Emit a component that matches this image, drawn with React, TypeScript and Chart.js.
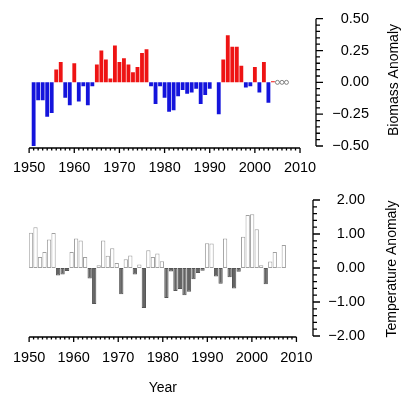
import React, { useEffect, useRef } from 'react';
import { Chart, registerables } from 'chart.js';

Chart.register(...registerables);

const FONT = '"Liberation Sans", Arial, Helvetica, sans-serif';

// ---------- data ----------
const biomassYears = [
  1951, 1952, 1953, 1954, 1955, 1956, 1957, 1958, 1959, 1960,
  1961, 1962, 1963, 1964, 1965, 1966, 1967, 1968, 1969, 1970,
  1971, 1972, 1973, 1974, 1975, 1976, 1977, 1978, 1979, 1980,
  1981, 1982, 1983, 1984, 1985, 1986, 1987, 1988, 1989, 1990,
  1991, 1992, 1993, 1994, 1995, 1996, 1997, 1998, 1999, 2000,
  2001, 2002, 2003, 2004,
];
const biomassValues = [
  -0.5, -0.14, -0.14, -0.27, -0.24, 0.1, 0.16, -0.12, -0.18, 0.15,
  -0.15, -0.03, -0.18, -0.03, 0.14, 0.25, 0.18, 0.03, 0.29, 0.16,
  0.19, 0.14, 0.08, 0.12, 0.23, 0.26, -0.03, -0.17, -0.03, -0.12,
  -0.23, -0.22, -0.11, -0.06, -0.09, -0.08, -0.05, -0.17, -0.1, -0.05,
  null, -0.25, 0.18, 0.37, 0.28, 0.28, 0.13, -0.04, -0.03, 0.12,
  -0.08, 0.16, -0.16, 0.008,
];
const biomassMissingYears = [2005, 2006, 2007];

const tempYears = [
  1950, 1951, 1952, 1953, 1954, 1955, 1956, 1957, 1958, 1959,
  1960, 1961, 1962, 1963, 1964, 1965, 1966, 1967, 1968, 1969,
  1970, 1971, 1972, 1973, 1974, 1975, 1976, 1977, 1978, 1979,
  1980, 1981, 1982, 1983, 1984, 1985, 1986, 1987, 1988, 1989,
  1990, 1991, 1992, 1993, 1994, 1995, 1996, 1997, 1998, 1999,
  2000, 2001, 2002, 2003, 2004, 2005, 2006, 2007,
];
const tempValues = [
  1.43, 1.04, 1.2, 0.32, 0.47, 0.84, 1.03, -0.22, -0.19, -0.09,
  0.47, 0.87, 0.81, 0.32, -0.31, -1.06, 0.08, 0.81, 0.36, 0.58,
  0.15, -0.77, 0.26, 0.37, -0.19, 0.1, -1.18, 0.52, 0.32, 0.43,
  0.2, -0.88, -0.1, -0.68, -0.62, -0.8, -0.7, -0.33, -0.15, -0.08,
  0.73, 0.72, -0.25, -0.46, 0.87, -0.27, -0.6, -0.11, 0.92, 1.56,
  1.58, 1.14, 0.08, -0.48, 0.19, 0.47, 0.02, 0.68,
];

const xTickYears = [1950, 1960, 1970, 1980, 1990, 2000, 2010];
const biomassTicks = [-0.5, -0.25, 0, 0.25, 0.5];
const tempTicks = [-2, -1, 0, 1, 2];

const RED = '#ee1414';
const BLUE = '#1414dc';
const DARK = '#646464';

const fmt = (v: number) => (v < -1e-9 ? '\u2212' : '') + Math.abs(v).toFixed(2);

type AxesCfg = {
  xAxis: string;
  xLineOffset: number;
  yMinorStep: number;
  majorTicks: number[];
  yTitle: string;
  yTitleX: number;
  yTitleY: number;
  xTitle?: string;
  xTitleY?: number;
};

function rAxes(cfg: AxesCfg) {
  return {
    id: 'rAxes',
    afterDraw(chart: any) {
      const ctx = chart.ctx as CanvasRenderingContext2D;
      const xs = chart.scales[cfg.xAxis];
      const ys = chart.scales.y;
      const area = chart.chartArea;
      ctx.save();
      ctx.strokeStyle = '#000';
      ctx.lineWidth = 1.3;
      // x axis
      const first = xTickYears[0];
      const last = xTickYears[xTickYears.length - 1];
      const yAx = area.bottom + cfg.xLineOffset;
      ctx.beginPath();
      ctx.moveTo(xs.getPixelForValue(first), yAx);
      ctx.lineTo(xs.getPixelForValue(last), yAx);
      for (let yr = first; yr <= last; yr++) {
        const px = xs.getPixelForValue(yr);
        const len = yr % 10 === 0 ? 5 : 2.5;
        ctx.moveTo(px, yAx);
        ctx.lineTo(px, yAx + len);
      }
      ctx.stroke();
      // y axis
      const xAy = area.right;
      const lo = cfg.majorTicks[0];
      const hi = cfg.majorTicks[cfg.majorTicks.length - 1];
      ctx.beginPath();
      ctx.moveTo(xAy, ys.getPixelForValue(lo));
      ctx.lineTo(xAy, ys.getPixelForValue(hi));
      const n = Math.round((hi - lo) / cfg.yMinorStep);
      for (let i = 0; i <= n; i++) {
        const v = lo + i * cfg.yMinorStep;
        const major = cfg.majorTicks.some((t) => Math.abs(t - v) < 1e-6);
        const py = ys.getPixelForValue(v);
        ctx.moveTo(xAy, py);
        ctx.lineTo(xAy + (major ? 7 : 4), py);
      }
      ctx.stroke();
      // titles
      ctx.fillStyle = '#000';
      ctx.font = '14px ' + FONT;
      ctx.textAlign = 'center';
      ctx.textBaseline = 'middle';
      ctx.save();
      ctx.translate(cfg.yTitleX, cfg.yTitleY);
      ctx.rotate(-Math.PI / 2);
      ctx.fillText(cfg.yTitle, 0, 0);
      ctx.restore();
      if (cfg.xTitle) {
        const cx = (xs.getPixelForValue(first) + xs.getPixelForValue(last)) / 2;
        ctx.fillText(cfg.xTitle, cx, cfg.xTitleY as number);
      }
      ctx.restore();
    },
  };
}

const tickFont = { family: FONT, size: 14.5 };

function xScale(min: number, max: number, height: number) {
  return {
    type: 'linear',
    position: 'bottom',
    min,
    max,
    offset: false,
    grid: { display: false, drawTicks: false, offset: false },
    border: { display: false },
    afterBuildTicks: (s: any) => {
      s.ticks = xTickYears.map((v) => ({ value: v }));
    },
    afterFit: (s: any) => {
      s.height = height;
    },
    ticks: {
      autoSkip: false,
      maxRotation: 0,
      minRotation: 0,
      padding: 13,
      color: '#000',
      font: tickFont,
      callback: (v: any) => String(v),
    },
  };
}

function yScale(ticks: number[], width: number) {
  return {
    type: 'linear',
    position: 'right',
    min: ticks[0],
    max: ticks[ticks.length - 1],
    grid: { display: false, drawTicks: false },
    border: { display: false },
    afterBuildTicks: (s: any) => {
      s.ticks = ticks.map((v) => ({ value: v }));
    },
    afterFit: (s: any) => {
      s.width = width;
    },
    ticks: {
      crossAlign: 'far',
      padding: 10,
      color: '#000',
      font: tickFont,
      callback: (v: any) => fmt(Number(v)),
    },
  };
}

export default function App() {
  const topRef = useRef<HTMLCanvasElement>(null);
  const botRef = useRef<HTMLCanvasElement>(null);

  useEffect(() => {
    const top = new Chart(topRef.current as HTMLCanvasElement, {
      type: 'bar',
      data: {
        datasets: [
          {
            type: 'bar',
            data: biomassYears.map((yr, i) => ({ x: yr, y: biomassValues[i] })),
            backgroundColor: biomassValues.map((v) => ((v ?? 0) >= 0 ? RED : BLUE)),
            borderWidth: 0,
            barPercentage: 0.85,
            categoryPercentage: 1,
            xAxisID: 'x',
            yAxisID: 'y',
          } as any,
          {
            type: 'line',
            data: biomassMissingYears.map((yr) => ({ x: yr, y: 0 })),
            showLine: false,
            pointRadius: 2,
            pointBorderWidth: 0.8,
            pointBorderColor: '#666',
            pointBackgroundColor: 'rgba(255,255,255,0)',
            xAxisID: 'x',
            yAxisID: 'y',
          } as any,
        ],
      },
      options: {
        responsive: false,
        animation: false,
        devicePixelRatio: 1,
        layout: { padding: { left: 25, top: 14, right: 34, bottom: 0 } },
        plugins: { legend: { display: false }, tooltip: { enabled: false } },
        scales: {
          x: xScale(1950, 2013.54, 34),
          y: yScale(biomassTicks, 53),
        } as any,
      },
      plugins: [
        rAxes({
          xAxis: 'x',
          xLineOffset: 2,
          yMinorStep: 0.05,
          majorTicks: biomassTicks,
          yTitle: 'Biomass Anomaly',
          yTitleX: 394,
          yTitleY: 80,
        }),
      ],
    });

    const bot = new Chart(botRef.current as HTMLCanvasElement, {
      type: 'bar',
      data: {
        datasets: [
          {
            type: 'bar',
            data: tempYears.map((yr, i) => ({ x: yr, y: tempValues[i] })),
            backgroundColor: tempValues.map((v) => (v >= 0 ? '#ffffff' : DARK)),
            borderColor: tempValues.map((v) => (v >= 0 ? '#a0a0a0' : '#555555')),
            borderWidth: 1,
            borderSkipped: false,
            barPercentage: 0.95,
            categoryPercentage: 1,
            xAxisID: 'xb',
            yAxisID: 'y',
          } as any,
        ],
      },
      options: {
        responsive: false,
        animation: false,
        devicePixelRatio: 1,
        layout: { padding: { left: 25, top: 20, right: 38, bottom: 0 } },
        plugins: { legend: { display: false }, tooltip: { enabled: false } },
        scales: {
          x: xScale(1950, 2013.72, 57),
          xb: {
            type: 'linear',
            display: false,
            position: 'bottom',
            offset: false,
            min: 1950.59,
            max: 2013.47,
            grid: { offset: false },
          },
          y: yScale(tempTicks, 52),
        } as any,
      },
      plugins: [
        rAxes({
          xAxis: 'x',
          xLineOffset: 1,
          yMinorStep: 0.2,
          majorTicks: tempTicks,
          yTitle: 'Temperature Anomaly',
          yTitleX: 392,
          yTitleY: 89,
          xTitle: 'Year',
          xTitleY: 208,
        }),
      ],
    });

    return () => {
      top.destroy();
      bot.destroy();
    };
  }, []);

  return (
    <div style={{ position: 'absolute', left: 0, top: 0, width: 403, height: 393, background: '#fff' }}>
      <canvas ref={topRef} width={403} height={180} style={{ position: 'absolute', left: 0, top: 0 }} />
      <canvas ref={botRef} width={403} height={213} style={{ position: 'absolute', left: 0, top: 180 }} />
    </div>
  );
}
